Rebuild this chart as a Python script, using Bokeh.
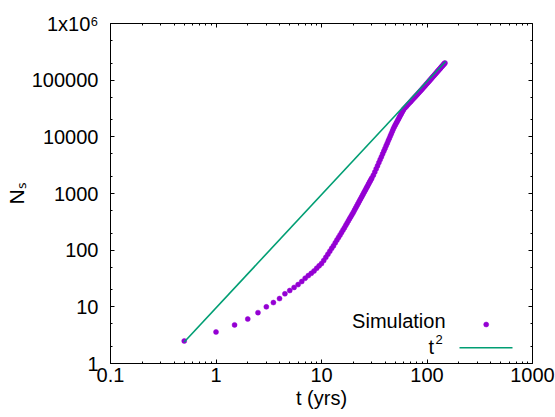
import math
from bokeh.plotting import figure
from bokeh.models import (FixedTicker, CustomJSTickFormatter, LogAxis, Label,
                          Range1d, LinearScale)
from bokeh.embed import file_html
from bokeh.resources import INLINE

# ---------------- data ----------------
t_sim = [0.5, 1, 1.5, 2, 2.5, 3, 3.5, 4, 4.5, 5, 5.5, 6, 6.5, 7, 7.5, 8, 8.5, 9, 9.5, 10,
         10.5, 11, 11.5, 12, 12.5, 13, 13.5, 14, 14.5, 15, 15.5, 16, 16.5, 17, 17.5, 18,
         18.5, 19, 19.5, 20, 20.5, 21, 21.5, 22, 22.5, 23, 23.5, 24, 24.5, 25, 25.5, 26,
         26.5, 27, 27.5, 28, 28.5, 29, 29.5, 30,
         31, 32, 33, 34, 35, 36, 37, 38, 39, 40, 41, 42, 43, 44, 45, 46, 47, 48, 49, 50,
         51, 52, 53, 54, 55, 56, 57, 58, 59, 60,
         62, 64, 66, 68, 70, 72, 74, 76, 78, 80, 82, 84, 86, 88, 90, 92, 94, 96, 98, 100,
         102, 104, 106, 108, 110, 112, 114, 116, 118, 120, 122, 124, 126, 128, 130, 132,
         134, 136, 138, 140, 142, 144, 146, 148]
n_sim = [2.5, 3.6, 4.8, 6.1, 7.9, 10, 11.9, 14, 17, 19.4, 22, 24.7, 28, 32, 35.6, 39, 43, 48, 53, 58,
         66, 75, 85, 96, 108, 120, 135, 151, 168, 186, 206, 227, 249, 275, 302, 331,
         361, 394, 428, 464, 505, 549, 595, 644, 696, 750, 808, 868, 932, 1000, 1071, 1145,
         1223, 1305, 1391, 1480, 1573, 1671, 1773, 1879,
         2104, 2387, 2727, 3100, 3511, 3966, 4464, 5005, 5600, 6255, 6966, 7740, 8573, 9477,
         10450, 11500, 12640, 13850, 15030, 16130,
         17280, 18500, 19780, 21120, 22520, 24000, 25500, 27100, 28750, 30500,
         32600, 34800, 37060, 39380, 41780, 44230, 46760, 49400, 52100, 54850, 57680, 60590,
         63560, 66600, 69900, 73200, 76600, 80100, 83800, 87500,
         91300, 95100, 99000, 103000, 107100, 111300, 115600, 119900, 124300, 128900, 133500,
         138300, 143100, 147900, 152900, 158000, 163100, 168400, 173700, 179100, 184600,
         190000, 196000, 201000]

t_line = [0.5, 150.0]
n_line = [2.4, 213000.0]

x_major = [0.1, 1, 10, 100, 1000]
x_tick_labels = ["0.1", "1", "10", "100", "1000"]
y_major = [1, 10, 100, 1000, 10000, 100000, 1000000]
y_tick_labels = ["1", "10", "100", "1000", "10000", "100000", "1x10\u2076"]
x_minor = [m * 10.0 ** k for k in range(-1, 3) for m in range(2, 10)]
y_minor = [m * 10.0 ** k for k in range(0, 6) for m in (2, 5)]

x_title = "t (yrs)"
y_title = "N\u209b"
series_names = ["Simulation", "t"]

# ---------------- style ----------------
FONT = "Liberation Sans"
PURPLE = "#9400D3"
GREEN = "#009E73"
FS = "20px"

p = figure(frame_width=422, frame_height=340,
           x_axis_type="log", y_axis_type="log",
           x_range=Range1d(0.1, 1000), y_range=Range1d(1, 1e6),
           output_backend="svg", toolbar_location=None,
           min_border_left=110, min_border_right=23,
           min_border_top=23, min_border_bottom=54)
p.background_fill_color = "white"
p.border_fill_color = "white"
p.outline_line_color = "black"
p.outline_line_width = 1
p.grid.visible = False


def fmt(vals, labs):
    return CustomJSTickFormatter(args=dict(vals=vals, labs=labs), code="""
        for (let i = 0; i < vals.length; i++) {
            if (Math.abs(Math.log10(tick) - Math.log10(vals[i])) < 1e-6) return labs[i];
        }
        return "";
    """)


def style_axis(ax):
    ax.axis_line_color = "black"
    ax.major_tick_in = 4
    ax.major_tick_out = 0
    ax.minor_tick_in = 2
    ax.minor_tick_out = 0
    ax.major_tick_line_color = "black"
    ax.minor_tick_line_color = "black"
    ax.major_label_text_font = FONT
    ax.major_label_text_font_size = FS
    ax.major_label_text_color = "black"


xa = p.xaxis[0]
xa.ticker = FixedTicker(ticks=x_major, minor_ticks=x_minor)
xa.formatter = fmt(x_major, x_tick_labels)
style_axis(xa)
xa.major_label_standoff = 4
xa.axis_label = x_title
xa.axis_label_text_font = FONT
xa.axis_label_text_font_size = FS
xa.axis_label_text_font_style = "normal"
xa.axis_label_text_color = "black"
xa.axis_label_standoff = 2

ya = p.yaxis[0]
ya.ticker = FixedTicker(ticks=y_major, minor_ticks=y_minor)
ya.formatter = fmt(y_major, y_tick_labels)
style_axis(ya)
ya.major_label_standoff = 12
ya.axis_label = y_title
ya.axis_label_text_font = FONT
ya.axis_label_text_font_size = "21px"
ya.axis_label_text_font_style = "normal"
ya.axis_label_text_color = "black"
ya.axis_label_standoff = 1

# mirrored tick marks on top and right (no labels)
for loc, maj, mnr in (("above", x_major, x_minor), ("right", y_major, y_minor)):
    ax = LogAxis(ticker=FixedTicker(ticks=maj, minor_ticks=mnr),
                 formatter=CustomJSTickFormatter(code="return '';"))
    style_axis(ax)
    ax.major_label_text_font_size = "0px"
    ax.major_label_standoff = 0
    ax.axis_line_color = None
    p.add_layout(ax, loc)

# ---------------- data marks ----------------
p.scatter(t_sim, n_sim, marker="circle", size=5, fill_color=PURPLE,
          line_color=PURPLE, line_width=0.5)
p.line(t_line, n_line, line_color=GREEN, line_width=1.6)

# ---------------- key (text left of sample, gnuplot style) ----------------
def lab(text, x, y, size=FS, align="center", baseline="middle"):
    p.add_layout(Label(x=x, y=y, x_units="screen", y_units="screen", text=text,
                       text_font=FONT, text_font_size=size, text_color="black",
                       text_align=align, text_baseline=baseline))

lab(series_names[0], 335, 42.5, align="right")
lab(series_names[1], 323.5, 17, align="right")
lab("2", 325, 24.5, size="13px", align="left")

p.extra_x_ranges = {"px": Range1d(0, 422)}
p.extra_y_ranges = {"px": Range1d(0, 340)}
p.extra_x_scales = {"px": LinearScale()}
p.extra_y_scales = {"px": LinearScale()}
p.scatter([375.7], [39], x_range_name="px", y_range_name="px", marker="circle",
          size=5, fill_color=PURPLE, line_color=PURPLE, line_width=0.5)
p.line([349, 402], [15.7, 15.7], x_range_name="px", y_range_name="px",
       line_color=GREEN, line_width=1.6)

open("out.html", "w").write(file_html(p, INLINE))
